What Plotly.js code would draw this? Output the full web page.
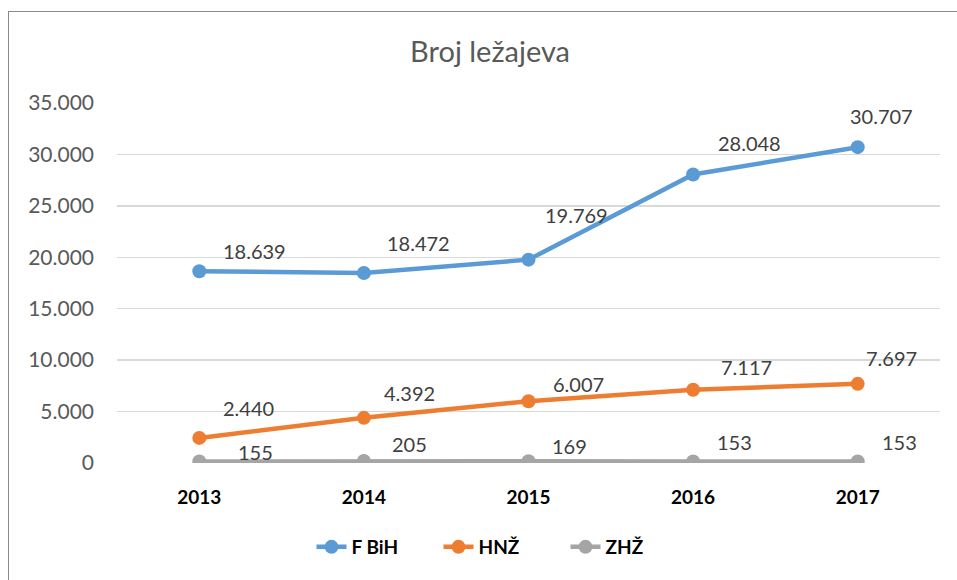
<!DOCTYPE html>
<html>
<head>
<meta charset="utf-8">
<script src="https://cdn.plot.ly/plotly-3.0.1.min.js"></script>
<style>
  html, body { margin: 0; padding: 0; background: #fff; overflow: hidden; }
  #wrap { position: relative; width: 957px; height: 580px; }
  #frame { position: absolute; left: 8px; top: 11px; width: 980px; height: 600px; border: 1.5px solid #8a8a8a; box-sizing: border-box; pointer-events: none; z-index: 5; }
  #chart { position: absolute; left: 0; top: 0; width: 957px; height: 580px; }
</style>
</head>
<body>
<div id="wrap">
  <div id="chart"></div>
  <div id="frame"></div>
</div>
<script>
// ---- data ----
const years = ['2013', '2014', '2015', '2016', '2017'];
const seriesNames = ['F BiH', 'HNŽ', 'ZHŽ'];
const fbih = [18639, 18472, 19769, 28048, 30707];
const hnz = [2440, 4392, 6007, 7117, 7697];
const zhz = [155, 205, 169, 153, 153];
const yTickVals = [0, 5000, 10000, 15000, 20000, 25000, 30000, 35000];
const yTickText = ['0', '5.000', '10.000', '15.000', '20.000', '25.000', '30.000', '35.000'];

// ---- styling ----
const colors = ['#5B9BD5', '#ED7D31', '#A5A5A5'];
const allSeries = [fbih, hnz, zhz];
// label nudges (pixels) per series / point, as placed in the original
const labelShift = [
  [[55, 20], [55, 30], [48, 45], [56, 32], [24, 31]],
  [[49, 30], [46, 25], [50, 17], [53, 23], [34, 26]],
  [[56, 9], [46, 17], [41, 15], [41, 19], [42, 19]]
];

function fmt(v) {
  return String(v).replace(/\B(?=(\d{3})+(?!\d))/g, '.');
}

const traces = allSeries.map((vals, i) => ({
  type: 'scatter',
  mode: 'lines+markers',
  name: seriesNames[i],
  x: years,
  y: vals,
  line: { color: colors[i], width: 4.5 },
  marker: { color: colors[i], size: 14 },
  hoverinfo: 'skip'
}));

const annotations = [];
allSeries.forEach((vals, i) => {
  vals.forEach((v, j) => {
    annotations.push({
      xref: 'x', yref: 'y', x: j, y: v,
      text: fmt(v), showarrow: false,
      xanchor: 'center', yanchor: 'middle',
      xshift: labelShift[i][j][0], yshift: labelShift[i][j][1],
      font: { family: 'Lato, sans-serif', size: 20, color: '#404040' }
    });
  });
});

const layout = {
  width: 957, height: 580,
  margin: { l: 116.5, r: 16.5, t: 103, b: 117 },
  paper_bgcolor: '#ffffff', plot_bgcolor: '#ffffff',
  title: {
    text: 'Broj ležajeva',
    font: { family: 'Lato, sans-serif', size: 29, color: '#595959' },
    xref: 'container', x: 490 / 957, xanchor: 'center',
    yref: 'container', y: 1 - 52 / 580, yanchor: 'middle'
  },
  xaxis: {
    type: 'category',
    range: [-0.5, 4.5],
    showgrid: false, zeroline: false,
    showline: false,
    ticks: '',
    ticklabelstandoff: 21,
    tickfont: { family: 'Lato, sans-serif', size: 19, color: '#000000', weight: 'bold' },
    fixedrange: true
  },
  yaxis: {
    range: [0, 35000],
    tickvals: yTickVals,
    ticktext: yTickText,
    showgrid: true, gridcolor: '#d9d9d9', gridwidth: 1.5,
    zeroline: false, showline: false,
    ticks: '',
    ticklabelstandoff: 22,
    tickfont: { family: 'Lato, sans-serif', size: 21, color: '#595959' },
    fixedrange: true
  },
  showlegend: true,
  legend: {
    orientation: 'h',
    xref: 'container', x: 502 / 957, xanchor: 'center',
    yref: 'container', y: 1 - 547 / 580, yanchor: 'middle',
    font: { family: 'Lato, sans-serif', size: 19, color: '#000000', weight: 'bold' },
    entrywidth: 82,
    traceorder: 'normal'
  },
  annotations: annotations
};

Plotly.newPlot('chart', traces, layout, { displayModeBar: false, staticPlot: true });
</script>
</body>
</html>
